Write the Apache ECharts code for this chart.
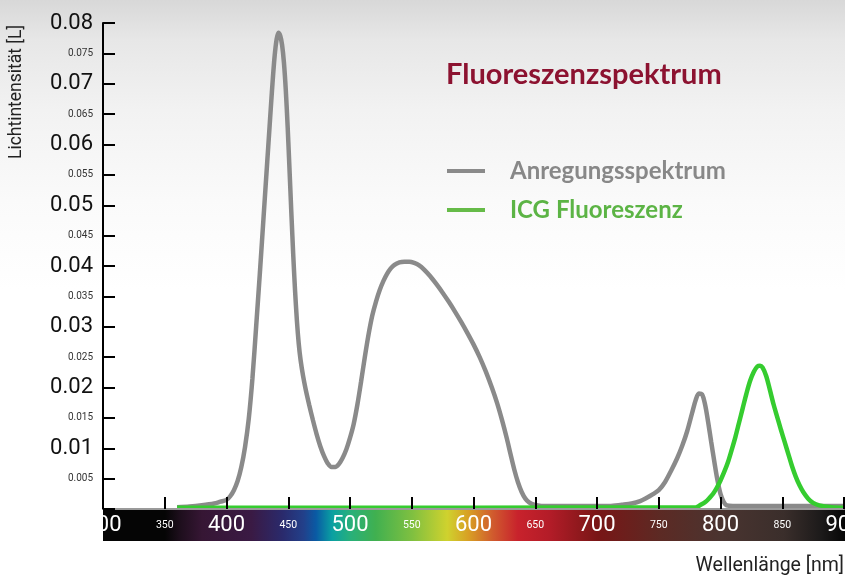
<!DOCTYPE html>
<html><head><meta charset="utf-8">
<script src="https://cdn.jsdelivr.net/npm/echarts@6/dist/echarts.min.js"></script>
<style>
html,body{margin:0;padding:0;width:845px;height:576px;overflow:hidden;
background:linear-gradient(to bottom,#d8d8d8 0px,#e7e7e7 40px,#f2f2f2 110px,#fafafa 200px,#ffffff 290px);}
#c{width:845px;height:576px;}
</style></head><body><div id="c"></div>
<script>
const chartTitle = 'Fluoreszenzspektrum';
const seriesNames = ['Anregungsspektrum', 'ICG Fluoreszenz'];
const yAxisTitle = 'Lichtintensität [L]';
const xAxisTitle = 'Wellenlänge [nm]';
const xMajorTicks = [300, 400, 500, 600, 700, 800, 900];
const xMinorTicks = [350, 450, 550, 650, 750, 850];
const yMajorTicks = [0.01, 0.02, 0.03, 0.04, 0.05, 0.06, 0.07, 0.08];
const yMinorTicks = [0.005, 0.015, 0.025, 0.035, 0.045, 0.055, 0.065, 0.075];

const excitationNm = [360, 370, 380, 390, 395, 400, 403, 406, 409, 412, 415, 418, 421, 424, 427, 430, 433, 434.5, 436, 437.5, 439, 440.5, 442, 443.5, 445, 446.5, 448, 449.5, 451, 452.5, 454, 455.5, 457, 458.5, 460, 462, 464, 467, 470, 473, 476, 479, 482, 485, 488, 491, 494, 497, 500, 503, 506, 509, 512, 515, 518, 521, 524, 527, 530, 533, 536, 540, 544, 548, 552, 556, 560, 565, 570, 575, 580, 585, 590, 595, 600, 605, 610, 615, 619, 623, 627, 630, 633, 636, 639, 642, 645, 649, 655, 700, 710, 720, 728, 735, 740, 745, 750, 755, 760, 765, 769, 773, 777, 780, 782.5, 785, 787.5, 790, 792.5, 795, 797.5, 800, 802.5, 805, 810, 900];
const excitationVal = [0.0003, 0.0004, 0.0006, 0.0009, 0.0012, 0.0015, 0.0021, 0.0031, 0.0046, 0.0069, 0.0102, 0.0148, 0.0215, 0.0300, 0.0388, 0.0480, 0.0572, 0.0618, 0.0664, 0.0708, 0.0746, 0.0772, 0.0784, 0.0779, 0.0764, 0.0735, 0.0690, 0.0630, 0.0560, 0.0488, 0.0420, 0.0360, 0.0310, 0.0272, 0.0245, 0.0219, 0.0198, 0.0171, 0.0146, 0.0123, 0.0103, 0.0087, 0.0075, 0.0069, 0.0069, 0.0074, 0.0084, 0.0098, 0.0117, 0.0140, 0.0172, 0.0210, 0.0250, 0.0287, 0.0318, 0.0341, 0.0360, 0.0375, 0.0387, 0.0396, 0.0402, 0.0406, 0.0407, 0.0407, 0.0405, 0.0401, 0.0394, 0.0383, 0.0370, 0.0356, 0.0341, 0.0325, 0.0308, 0.0290, 0.0271, 0.0250, 0.0226, 0.0199, 0.0175, 0.0147, 0.0116, 0.0090, 0.0065, 0.0044, 0.0028, 0.0017, 0.0011, 0.0007, 0.0005, 0.0005, 0.0005, 0.0007, 0.0009, 0.0013, 0.0018, 0.0024, 0.0031, 0.0044, 0.0063, 0.0084, 0.0104, 0.0128, 0.0158, 0.0180, 0.0190, 0.0189, 0.0172, 0.0143, 0.0110, 0.0078, 0.0048, 0.0025, 0.0012, 0.0006, 0.0005, 0.0005];

const icgNm = [360, 780, 784, 788, 791, 794, 797, 800, 803, 806, 809, 812, 815, 818, 821, 824, 827, 830, 832, 834, 837, 840, 843, 846, 849, 852, 855, 858, 861, 864, 867, 871, 875, 880, 890, 900];
const icgVal = [0.0002, 0.0003, 0.0007, 0.0012, 0.0018, 0.0025, 0.0035, 0.0047, 0.0061, 0.0077, 0.0097, 0.0118, 0.0142, 0.0166, 0.0190, 0.0211, 0.0226, 0.0235, 0.0236, 0.0233, 0.0219, 0.0196, 0.0172, 0.0151, 0.0130, 0.0110, 0.0090, 0.0070, 0.0053, 0.0039, 0.0028, 0.0017, 0.0010, 0.0006, 0.0003, 0.0002];

// visible-light colour band under the axis (decoration)
const spectrumNm = [300, 350, 362, 380, 420, 445, 462, 472, 485, 500, 520, 550, 578, 595, 615, 635, 660, 700, 750, 800, 850, 880, 900];
const spectrumColors = ['#050505', '#050505', '#1d0e1c', '#361634', '#3a1a44', '#2a2a6c', '#22408a', '#0a5aa4', '#0aa0a2', '#28b07a', '#40b050', '#80c040', '#cfd22e', '#d8a024', '#d05a2e', '#c8222c', '#b41c28', '#781616', '#5c2a24', '#4a3430', '#3a2e2b', '#1c1a1a', '#050505'];

const boldFont = 'Lato, "DejaVu Sans Condensed", sans-serif';
const near = (a, b) => Math.abs(a - b) < 1e-9;

const chart = echarts.init(document.getElementById('c'), null, { renderer: 'canvas' });
const option = {
  backgroundColor: 'transparent',
  animation: false,
  title: {
    text: chartTitle, left: 441, top: 55,
    textStyle: { fontFamily: boldFont, fontSize: 29, fontWeight: 'bold', color: '#8c1230' }
  },
  legend: {
    orient: 'vertical', left: 442, top: 154, icon: 'rect', itemWidth: 38, itemHeight: 4, itemGap: 15,
    textStyle: { fontFamily: boldFont, fontSize: 24, fontWeight: 'bold', padding: [0, 0, 0, 20] },
    data: [
      { name: seriesNames[0], itemStyle: { color: '#8a8a8a' }, textStyle: { color: '#888888' } },
      { name: seriesNames[1], itemStyle: { color: '#66bb48' }, textStyle: { color: '#5cb445' } }
    ]
  },
  grid: { left: 103, right: 1, top: 23, bottom: 67, containLabel: false, outerBoundsMode: 'none' },
  xAxis: {
    type: 'value', min: 300, max: 900, interval: 50, z: 10,
    axisLine: { show: true, onZero: false, lineStyle: { color: '#9a9a9a', width: 2 } },
    axisTick: { show: true, inside: true, length: 12, lineStyle: { color: '#000', width: 2 } },
    splitLine: { show: false },
    axisLabel: {
      margin: 16, verticalAlign: 'middle', showMinLabel: true, showMaxLabel: true, hideOverlap: false,
      formatter: v => xMajorTicks.includes(v) ? '{big|' + v + '}' : (xMinorTicks.includes(v) ? '{small|' + v + '}' : ''),
      rich: {
        big: { fontFamily: 'Roboto', fontSize: 22, color: '#ffffff' },
        small: { fontFamily: 'Roboto', fontSize: 10.5, color: '#ffffff' }
      }
    }
  },
  yAxis: {
    type: 'value', min: 0, max: 0.08, interval: 0.005, z: 10,
    axisLine: { show: true, lineStyle: { color: '#000', width: 2 } },
    axisTick: { show: true, inside: true, length: 12, lineStyle: { color: '#000', width: 2 } },
    splitLine: { show: false },
    axisLabel: {
      margin: 10,
      formatter: v => yMajorTicks.some(t => near(t, v)) ? '{big|' + v.toFixed(2) + '}' : (yMinorTicks.some(t => near(t, v)) ? '{small|' + v.toFixed(3) + '}' : ''),
      rich: {
        big: { fontFamily: 'Roboto', fontSize: 22, color: '#111111' },
        small: { fontFamily: 'Roboto', fontSize: 10, color: '#333333' }
      }
    }
  },
  series: [
    {
      name: seriesNames[0], type: 'line', smooth: 0.3, showSymbol: false, z: 3,
      lineStyle: { color: '#8a8a8a', width: 4.5 }, itemStyle: { color: '#8a8a8a' },
      data: excitationNm.map((x, i) => [x, excitationVal[i]])
    },
    {
      name: seriesNames[1], type: 'line', smooth: 0.3, showSymbol: false, z: 4,
      lineStyle: { color: '#35cc2f', width: 4.5 }, itemStyle: { color: '#35cc2f' },
      data: icgNm.map((x, i) => [x, icgVal[i]])
    }
  ]
};
chart.setOption(option);

const x0 = chart.convertToPixel({ xAxisIndex: 0 }, spectrumNm[0]);
const x1 = chart.convertToPixel({ xAxisIndex: 0 }, spectrumNm[spectrumNm.length - 1]);
const yBase = chart.convertToPixel({ yAxisIndex: 0 }, 0);
const span = spectrumNm[spectrumNm.length - 1] - spectrumNm[0];
chart.setOption({
  graphic: [
    {
      type: 'rect', z: -5, silent: true,
      shape: { x: x0, y: yBase, width: x1 - x0 + 2, height: 32 },
      style: {
        fill: new echarts.graphic.LinearGradient(0, 0, 1, 0,
          spectrumNm.map((nm, i) => ({ offset: (nm - spectrumNm[0]) / span, color: spectrumColors[i] })))
      }
    },
    {
      type: 'text', x: 17, y: 92, rotation: Math.PI / 2, z: 10,
      style: { text: yAxisTitle, fontFamily: 'Roboto', fontSize: 17.5, fill: '#222', textAlign: 'center', textVerticalAlign: 'middle' }
    },
    {
      type: 'text', x: 844, y: 566, z: 10,
      style: { text: xAxisTitle, fontFamily: 'Roboto', fontSize: 19.5, fill: '#222', textAlign: 'right', textVerticalAlign: 'middle' }
    }
  ]
});
</script></body></html>
